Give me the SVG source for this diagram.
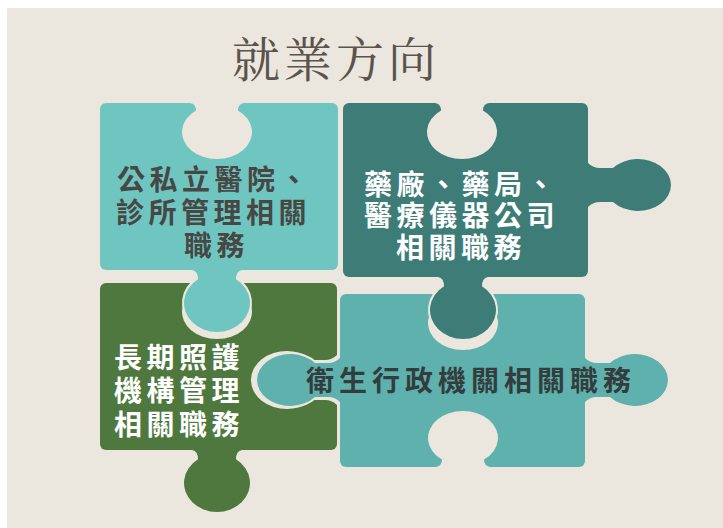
<svg xmlns="http://www.w3.org/2000/svg" width="723" height="528" viewBox="0 0 723 528">
  <style>
    .bgc { fill: #ece7de; }
    .notch { fill: #ece7de; }
    .p1 { fill: #6fc6c1; }
    .p2 { fill: #3e7c78; }
    .p3 { fill: #4e783e; }
    .p4 { fill: #5eb1ad; }
    .ins { stroke: #ece7de; stroke-width: 4; paint-order: stroke; stroke-linejoin: round; }
    .t { font-family: "Noto Sans CJK TC", "Noto Sans CJK SC", sans-serif; font-weight: 700; font-size: 28px; letter-spacing: 4.5px; }
    .dark { fill: #474744; }
    .light { fill: #ffffff; }
    .title { font-family: "Noto Serif CJK TC", "Noto Sans CJK TC", serif; font-size: 48px; letter-spacing: 4px; fill: #5a544d; }
  </style>
  <defs>
    <path id="tabV" d="M 25,-3 L 25,0 Q 19,1 19,9.3 A 33 29 0 1 1 -19,9.3 Q -19,1 -25,0 L -25,-3 Z"/>
    <path id="notchV" d="M 27,-3 L 27,0 Q 21,1 21,7.4 A 35 27 0 1 1 -21,7.4 Q -21,1 -27,0 L -27,-3 Z"/>
    <path id="tabH" d="M -3,-22 L 0,-22 Q 5,-17 12,-17 L 25,-17 A 33 26 0 1 1 25,17 L 12,17 Q 5,17 0,22 L -3,22 Z"/>
    <path id="notchH" d="M -3,-25 L 0,-25 Q 5,-20 12,-20 L 24,-20 A 36 29 0 1 1 24,20 L 12,20 Q 5,20 0,25 L -3,25 Z"/>
  </defs>

  <rect x="0" y="0" width="723" height="528" fill="#ffffff"/>
  <rect class="bgc" x="7" y="8" width="716" height="520"/>

  <text class="title" x="232" y="77">就業方向</text>

  <!-- bottom-left piece -->
  <g id="piece-longterm-care">
    <rect class="p3" x="100" y="283" width="237" height="167" rx="6"/>
    <use href="#tabV" class="p3" transform="translate(217,450)"/>
    <use href="#notchV" class="notch" transform="translate(217,283)"/>
    <use href="#notchH" class="notch" transform="translate(337,380) scale(-1,1)"/>
    <text class="t light"><tspan x="114" y="368">長期照護</tspan><tspan x="114" y="401">機構管理</tspan><tspan x="114" y="435">相關職務</tspan></text>
  </g>

  <!-- bottom-right piece -->
  <g id="piece-health-admin">
    <use href="#tabH" class="p4 ins" transform="translate(340,380) scale(-1,1)"/>
    <rect class="p4" x="340" y="294" width="245" height="173" rx="6"/>
    <use href="#tabH" class="p4" transform="translate(585,380)"/>
    <use href="#notchV" class="notch" transform="translate(463,294)"/>
    <use href="#notchV" class="notch" transform="translate(463,467) scale(1,-1)"/>
    <text class="t" x="306" y="391" style="fill:#343d3d;letter-spacing:5px">衛生行政機關相關職務</text>
  </g>

  <!-- top-left piece -->
  <g id="piece-hospital">
    <use href="#tabV" class="p1 ins" transform="translate(217,270)"/>
    <rect class="p1" x="100" y="103" width="238" height="167" rx="6"/>
    <use href="#notchV" class="notch" transform="translate(217,103)"/>
    <text class="t dark"><tspan x="117" y="190">公私立醫院、</tspan><tspan x="116" y="223">診所管理相關</tspan><tspan x="184" y="256">職務</tspan></text>
  </g>

  <!-- top-right piece -->
  <g id="piece-pharma">
    <use href="#tabV" class="p2 ins" transform="translate(463,277)"/>
    <rect class="p2" x="343" y="103" width="245" height="174" rx="6"/>
    <use href="#tabH" class="p2" transform="translate(588,185)"/>
    <use href="#notchV" class="notch" transform="translate(462,103)"/>
    <text class="t light"><tspan x="364" y="195">藥廠、藥局、</tspan><tspan x="364" y="226">醫療儀器公司</tspan><tspan x="396" y="258">相關職務</tspan></text>
  </g>

  <g id="connectors"></g>
</svg>
